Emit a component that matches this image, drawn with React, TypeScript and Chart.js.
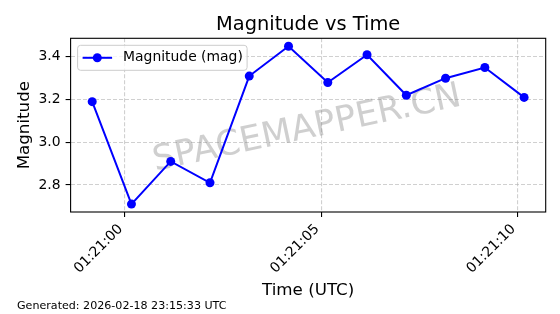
import React, { useEffect, useRef } from "react";
import { Chart, registerables } from "chart.js";

Chart.register(...registerables);

const chartTitle = "Magnitude vs Time";
const seriesLabel = "Magnitude (mag)";
const xAxisTitle = "Time (UTC)";
const yAxisTitle = "Magnitude";
const footerText = "Generated: 2026-02-18 23:15:33 UTC";
const watermarkText = "SPACEMAPPER.CN";

const timeLabels = [
  "01:20:59.17",
  "01:21:00.17",
  "01:21:01.17",
  "01:21:02.17",
  "01:21:03.17",
  "01:21:04.17",
  "01:21:05.17",
  "01:21:06.17",
  "01:21:07.17",
  "01:21:08.17",
  "01:21:09.17",
  "01:21:10.17",
];
const magnitudes = [3.19, 2.71, 2.91, 2.81, 3.31, 3.45, 3.28, 3.41, 3.22, 3.3, 3.35, 3.21];
const xTickLabels = ["01:21:00", "01:21:05", "01:21:10"];
const yTickValues = [2.8, 3.0, 3.2, 3.4];

const FONT = "'DejaVu Sans', sans-serif";

function toSec(s: string): number {
  const [h, m, sec] = s.split(":");
  return Number(h) * 3600 + Number(m) * 60 + Number(sec);
}
function fmtSec(v: number): string {
  const t = Math.round(v);
  const h = Math.floor(t / 3600);
  const m = Math.floor((t % 3600) / 60);
  const s = t % 60;
  const p = (n: number) => String(n).padStart(2, "0");
  return `${p(h)}:${p(m)}:${p(s)}`;
}

export default function App() {
  const ref = useRef<HTMLCanvasElement | null>(null);

  useEffect(() => {
    const canvas = ref.current;
    if (!canvas) return;
    const xs = timeLabels.map(toSec);
    const xMinD = Math.min(...xs);
    const xMaxD = Math.max(...xs);
    const xPad = (xMaxD - xMinD) * 0.05;
    const yMinD = Math.min(...magnitudes);
    const yMaxD = Math.max(...magnitudes);
    const yPad = (yMaxD - yMinD) * 0.05;
    const points = xs.map((x, i) => ({ x, y: magnitudes[i] }));
    const xTickVals = xTickLabels.map(toSec);

    const decor = {
      id: "decor",
      beforeDatasetsDraw(chart: any) {
        const ctx = chart.ctx;
        const a = chart.chartArea;
        ctx.save();
        ctx.translate((a.left + a.right) / 2 - 1, (a.top + a.bottom) / 2 + 4);
        ctx.rotate((-12 * Math.PI) / 180);
        ctx.font = `35px ${FONT}`;
        ctx.fillStyle = "rgba(128,128,128,0.38)";
        ctx.textAlign = "center";
        ctx.textBaseline = "middle";
        ctx.fillText(watermarkText, 0, 0);
        ctx.restore();
      },
      afterDraw(chart: any) {
        const ctx = chart.ctx;
        const a = chart.chartArea;
        ctx.save();
        // frame
        ctx.strokeStyle = "#000";
        ctx.lineWidth = 1.1;
        ctx.strokeRect(a.left, a.top, a.right - a.left, a.bottom - a.top);
        // title
        ctx.fillStyle = "#000";
        ctx.font = `19.4px ${FONT}`;
        ctx.textAlign = "center";
        ctx.textBaseline = "alphabetic";
        ctx.fillText(chartTitle, (a.left + a.right) / 2, 30);
        // x title
        ctx.font = `16.7px ${FONT}`;
        ctx.fillText(xAxisTitle, (a.left + a.right) / 2, 295);
        // y title
        ctx.save();
        ctx.translate(25, (a.top + a.bottom) / 2);
        ctx.rotate(-Math.PI / 2);
        ctx.textBaseline = "middle";
        ctx.fillText(yAxisTitle, 0, 0);
        ctx.restore();
        // footer
        ctx.font = `11.1px ${FONT}`;
        ctx.textAlign = "left";
        ctx.fillText(footerText, 17, 309);
        // legend
        const lx = a.left + 7, ly = a.top + 7, lw = 169.5, lh = 25;
        ctx.beginPath();
        (ctx as any).roundRect(lx, ly, lw, lh, 3);
        ctx.fillStyle = "rgba(255,255,255,0.8)";
        ctx.fill();
        ctx.strokeStyle = "#cccccc";
        ctx.lineWidth = 1;
        ctx.stroke();
        const my = ly + lh / 2;
        ctx.strokeStyle = "#0000ff";
        ctx.lineWidth = 2;
        ctx.beginPath();
        ctx.moveTo(lx + 5, my);
        ctx.lineTo(lx + 34.5, my);
        ctx.stroke();
        ctx.fillStyle = "#0000ff";
        ctx.beginPath();
        ctx.arc(lx + 19.7, my, 4.5, 0, Math.PI * 2);
        ctx.fill();
        ctx.fillStyle = "#000";
        ctx.font = `13.9px ${FONT}`;
        ctx.textBaseline = "middle";
        ctx.fillText(seriesLabel, lx + 45.5, my);
        ctx.restore();
      },
    };

    const gridColor = "rgba(176,176,176,0.6)";
    const chart = new Chart(canvas, {
      type: "line",
      data: {
        datasets: [
          {
            label: seriesLabel,
            data: points,
            borderColor: "#0000ff",
            backgroundColor: "#0000ff",
            borderWidth: 2,
            pointRadius: 4.5,
            pointBorderWidth: 0,
            pointBackgroundColor: "#0000ff",
            tension: 0,
          },
        ],
      },
      options: {
        responsive: false,
        animation: false,
        layout: { padding: { left: 0, top: 38.3, right: 14.3, bottom: 0 } },
        plugins: {
          legend: { display: false },
          title: { display: false },
          tooltip: { enabled: false },
        },
        scales: {
          x: {
            type: "linear",
            min: xMinD - xPad,
            max: xMaxD + xPad,
            afterBuildTicks(scale: any) {
              scale.ticks = xTickVals.map((v) => ({ value: v }));
            },
            afterFit(scale: any) {
              scale.height = 102;
            },
            ticks: {
              autoSkip: false,
              minRotation: 45,
              maxRotation: 45,
              padding: 4,
              labelOffset: -4,
              color: "#000",
              font: { family: FONT, size: 13.9 },
              callback: (v: any) => fmtSec(Number(v)),
            },
            grid: {
              color: gridColor,
              lineWidth: 1.1,
              tickColor: "#000",
              tickLength: 5,
              tickWidth: 1.1,
              tickBorderDash: [],
            } as any,
            border: { display: false, dash: [4, 2] },
          },
          y: {
            type: "linear",
            min: yMinD - yPad,
            max: yMaxD + yPad,
            afterBuildTicks(scale: any) {
              scale.ticks = yTickValues.map((v) => ({ value: v }));
            },
            afterFit(scale: any) {
              scale.width = 70.6;
            },
            ticks: {
              padding: 5,
              color: "#000",
              font: { family: FONT, size: 13.9 },
              callback: (v: any) => Number(v).toFixed(1),
            },
            grid: {
              color: gridColor,
              lineWidth: 1.1,
              tickColor: "#000",
              tickLength: 5,
              tickWidth: 1.1,
              tickBorderDash: [],
            } as any,
            border: { display: false, dash: [4, 2] },
          },
        },
      },
      plugins: [decor],
    });
    return () => chart.destroy();
  }, []);

  return (
    <div style={{ position: "fixed", left: 0, top: 0, width: 560, height: 314, background: "#fff" }}>
      <canvas ref={ref} width={560} height={314} style={{ display: "block" }} />
    </div>
  );
}
